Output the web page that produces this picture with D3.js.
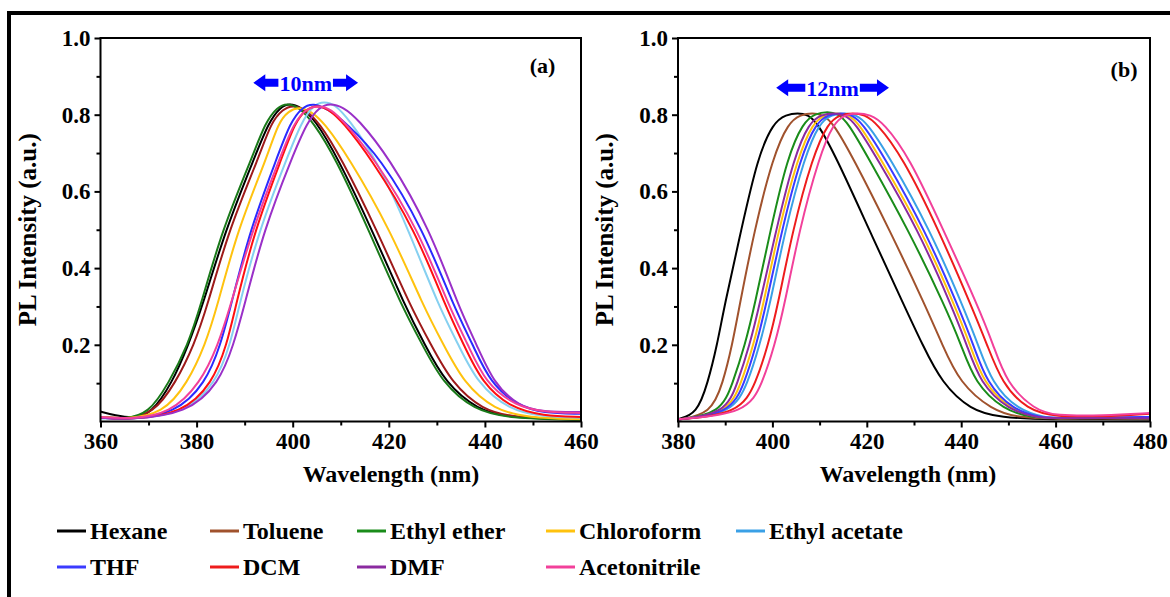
<!DOCTYPE html>
<html>
<head>
<meta charset="utf-8">
<script src="https://cdn.jsdelivr.net/npm/d3@7"></script>
<style>
  body { margin: 0; background: #fff; }
  svg text { font-family: "Liberation Serif", "Times New Roman", serif; font-weight: bold; fill: #000; }
</style>
</head>
<body>
<div id="main"></div>
<script>
// solvents, in legend order
const solvents = ["Hexane", "Toluene", "Ethyl ether", "Chloroform", "Ethyl acetate",
                  "THF", "DCM", "DMF", "Acetonitrile"];
const colors  = ["#000000", "#a0522d", "#1a8c1a", "#ffc20e", "#3aa0e6",
                 "#3b3bff", "#ee1c1c", "#8b2aa0", "#f2409a"];
// panel (a) uses slightly different shades for a few curves
const colorsA = ["#000000", "#9e1a1a", "#1a7a1a", "#ffc20e", "#86d0f0",
                 "#2a2aff", "#ff1010", "#9a30c8", "#f2409a"];

// ---- panel (a): [wavelength nm, PL intensity] ----
const hexaneA = [[360,.026],[363,.016],[367,.008],[370.5,.02],[374.9,.1],[378.3,.2],[381.2,.3],[386,.5],[392.1,.69],[395,.78],[397.4,.82],[399.4,.83],[401.7,.82],[404.5,.79],[409.3,.69],[416.5,.5],[423.4,.3],[427.5,.2],[431.8,.1],[438.5,.03],[445,.01],[460,.006]];
const tolueneA = [[360,.012],[365,.006],[371,.02],[375.6,.1],[379.5,.2],[382.2,.3],[386.7,.5],[393,.69],[395.5,.78],[398,.815],[400,.825],[402.5,.815],[405.5,.78],[410,.69],[417.5,.5],[424.5,.3],[428.8,.2],[433.1,.1],[439.5,.03],[446,.01],[460,.005]];
const etherA = [[360,.012],[365,.006],[370,.02],[374.2,.1],[378.2,.2],[380.8,.3],[385.3,.5],[391.6,.69],[394.3,.78],[396.8,.82],[398.8,.83],[401.3,.82],[404.3,.78],[408.8,.69],[415.8,.5],[422.7,.3],[427,.2],[431.2,.1],[437.7,.03],[445,.008],[460,.004]];
const chloroformA = [[360,.012],[365,.006],[373,.02],[378.1,.1],[381.8,.2],[384.3,.3],[388.5,.5],[394.7,.69],[397,.78],[399.2,.81],[401.2,.82],[403.7,.81],[406.5,.78],[411.6,.69],[420.3,.5],[427.2,.3],[431.4,.2],[435.6,.1],[442,.03],[449,.01],[460,.006]];
const acetateA = [[360,.008],[366,.005],[377.5,.02],[384,.1],[387,.2],[388.8,.3],[393,.5],[398.9,.69],[401.8,.78],[404.3,.825],[406.5,.835],[409,.825],[411.5,.79],[417.2,.69],[424.1,.5],[430.4,.3],[434.5,.2],[438.4,.1],[445,.03],[452,.012],[460,.01]];
const thfA = [[360,.01],[366,.005],[375.5,.02],[381.9,.1],[385,.2],[387.1,.3],[391.1,.5],[396.8,.69],[399.5,.78],[402,.82],[404.3,.83],[407.3,.815],[411,.78],[418.2,.69],[427.2,.5],[433.5,.3],[437.5,.2],[441.1,.1],[447,.04],[452,.022],[460,.02]];
const dcmA = [[360,.01],[366,.005],[377,.02],[383.3,.1],[386.3,.2],[388.1,.3],[392.1,.5],[397.8,.69],[400.5,.78],[402.8,.815],[405,.825],[407.5,.815],[410.5,.78],[416.1,.69],[425.5,.5],[431.8,.3],[435.6,.2],[439.4,.1],[445.5,.035],[452,.015],[460,.012]];
const dmfA = [[360,.01],[366,.005],[378,.02],[384.7,.1],[387.7,.2],[389.9,.3],[394,.5],[399.9,.69],[403,.78],[405.5,.82],[407.8,.83],[410.5,.82],[413.5,.79],[420,.69],[428.6,.5],[434.5,.3],[438.3,.2],[441.8,.1],[447,.04],[452,.025],[460,.025]];
const acetonitrileA = [[360,.012],[366,.006],[374.5,.02],[380.8,.1],[384.5,.2],[387,.3],[391.6,.5],[397.4,.69],[400.3,.78],[402.8,.815],[405.3,.825],[408,.815],[410.8,.78],[416.8,.69],[426.2,.5],[432.5,.3],[436.5,.2],[440.1,.1],[446.5,.04],[452,.025],[460,.022]];

// ---- panel (b) ----
const hexaneB = [[380,.006],[384,.02],[386.3,.1],[388.3,.2],[389.8,.3],[393.4,.5],[396.9,.69],[400.2,.78],[402.9,.8],[405.4,.805],[407.5,.8],[409.5,.78],[413.5,.69],[420.5,.5],[428,.3],[431.8,.2],[435.9,.1],[442,.03],[448,.01],[460,.005],[470,.006],[480,.005]];
const tolueneB = [[380,.005],[387,.02],[389.5,.1],[391.5,.2],[393,.3],[396.2,.5],[400.1,.69],[403.4,.78],[406,.8],[408.5,.805],[410.6,.8],[412.8,.78],[417,.69],[424.8,.5],[432.5,.3],[436,.2],[439.7,.1],[446.5,.03],[452,.01],[460,.007],[470,.008],[480,.006]];
const etherB = [[380,.005],[389,.02],[391.6,.1],[394.2,.2],[396.2,.3],[399.6,.5],[403.2,.69],[406.5,.78],[409.1,.803],[411.7,.808],[413.8,.803],[416,.78],[420.2,.69],[428.8,.5],[436.6,.3],[440,.2],[442.9,.1],[449,.03],[455,.01],[460,.008],[470,.01],[480,.008]];
const chloroformB = [[380,.005],[390.5,.02],[393.4,.1],[396,.2],[398,.3],[401.3,.5],[405.4,.69],[408.6,.78],[411.2,.8],[413.8,.805],[416,.8],[418.2,.78],[422.7,.69],[431.6,.5],[438.7,.3],[441.9,.2],[444.7,.1],[450.5,.03],[456.5,.01],[460,.008],[470,.01],[480,.01]];
const acetateB = [[380,.005],[391.5,.02],[394.8,.1],[397.3,.2],[399.4,.3],[402.7,.5],[406.8,.69],[410,.78],[412.6,.8],[415.3,.805],[417.6,.8],[420,.78],[424.8,.69],[433.4,.5],[440.4,.3],[443.6,.2],[446.5,.1],[452,.03],[458,.01],[460,.009],[470,.01],[480,.01]];
const thfB = [[380,.005],[391,.02],[394.1,.1],[396.6,.2],[398.6,.3],[402,.5],[406,.69],[409.3,.78],[411.9,.8],[414.5,.805],[416.7,.8],[419,.78],[423.7,.69],[432.3,.5],[439.4,.3],[442.6,.2],[445.4,.1],[451,.03],[457,.01],[460,.009],[470,.01],[480,.012]];
const dcmB = [[380,.005],[393,.02],[396.5,.1],[399.1,.2],[401.1,.3],[404.3,.5],[408.5,.69],[411.8,.78],[414.4,.8],[417,.805],[419.5,.8],[422,.78],[427.6,.69],[435.2,.5],[442.2,.3],[445.5,.2],[448.6,.1],[454,.03],[460,.012],[470,.012],[480,.02]];
const dmfB = [[380,.005],[390,.02],[392.6,.1],[395.2,.2],[397.2,.3],[400.8,.5],[404.6,.69],[407.8,.78],[410.4,.8],[413,.805],[415.2,.8],[417.5,.78],[422,.69],[430.9,.5],[438,.3],[441.2,.2],[444,.1],[450,.03],[456,.01],[460,.008],[470,.01],[480,.008]];
const acetonitrileB = [[380,.006],[394.5,.02],[397.9,.1],[400.5,.2],[402.5,.3],[405.7,.5],[409.9,.69],[413,.78],[415.5,.8],[418,.805],[420.7,.8],[423.5,.78],[429,.69],[436.2,.5],[443.6,.3],[446.8,.2],[449.6,.1],[455.6,.03],[460,.015],[470,.015],[480,.022]];

const seriesA = [hexaneA, tolueneA, etherA, chloroformA, acetateA, thfA, dcmA, dmfA, acetonitrileA];
const seriesB = [hexaneB, tolueneB, etherB, chloroformB, acetateB, thfB, dcmB, dmfB, acetonitrileB];

const yMajor = [0.2, 0.4, 0.6, 0.8, 1.0];
const yMinor = [0.1, 0.3, 0.5, 0.7, 0.9];

const ctx = {
    w: 1170,
    h: 597,
    FONT: 23,
};

const panels = [
    {id: "a", series: seriesA, colors: colorsA, xDomain: [360, 460],
     xMajor: [360, 380, 400, 420, 440, 460], xMinor: [370, 390, 410, 430, 450],
     left: 100.5, right: 581, titleX: 391,
     shift: {from: 391.8, to: 413.6, y: 0.883, text: "10nm"},
     tag: {x: 452, y: 0.93}},
    {id: "b", series: seriesB, colors: colors, xDomain: [380, 480],
     xMajor: [380, 400, 420, 440, 460, 480], xMinor: [390, 410, 430, 450, 470],
     left: 678, right: 1150, titleX: 908,
     shift: {from: 400.8, to: 424.7, y: 0.87, text: "12nm"},
     tag: {x: 474.5, y: 0.918}},
];

const TOP = 38, BOTTOM = 421.5;

function drawPanel(svg, p){
    let x = d3.scaleLinear().domain(p.xDomain).range([p.left, p.right]);
    let y = d3.scaleLinear().domain([0, 1]).range([BOTTOM, TOP]);
    let g = svg.append("g").attr("id", "panel-" + p.id);

    // curves, clipped to the plot frame
    g.append("clipPath").attr("id", "clip-" + p.id)
     .append("rect")
     .attr("x", p.left).attr("y", TOP)
     .attr("width", p.right - p.left).attr("height", BOTTOM - TOP);
    let line = d3.line()
                 .x((d) => x(d[0]))
                 .y((d) => y(d[1]))
                 .curve(d3.curveBasis);
    g.append("g").attr("clip-path", `url(#clip-${p.id})`)
     .selectAll("path")
     .data(p.series)
     .enter()
     .append("path")
     .attr("d", line)
     .attr("fill", "none")
     .attr("stroke", (d, i) => p.colors[i])
     .attr("stroke-width", 2);

    // axes: minor ticks (no labels) then major ticks with labels
    g.append("g")
     .attr("transform", `translate(0,${BOTTOM})`)
     .call(d3.axisBottom(x).tickValues(p.xMinor).tickSize(4).tickFormat(""));
    g.append("g")
     .attr("transform", `translate(0,${BOTTOM})`)
     .call(d3.axisBottom(x).tickValues(p.xMajor).tickSize(6).tickPadding(5)
                           .tickFormat(d3.format("d")));
    g.append("g")
     .attr("transform", `translate(${p.left},0)`)
     .call(d3.axisLeft(y).tickValues(yMinor).tickSize(4).tickFormat(""));
    g.append("g")
     .attr("transform", `translate(${p.left},0)`)
     .call(d3.axisLeft(y).tickValues(yMajor).tickSize(6).tickPadding(4)
                         .tickFormat(d3.format(".1f")));
    g.selectAll(".domain").remove();
    g.selectAll(".tick line").attr("stroke", "#000").attr("stroke-width", 2);
    g.selectAll(".tick text").style("font-size", ctx.FONT + "px")
     .style("font-family", '"Liberation Serif", serif').style("font-weight", "bold");

    // plot frame
    g.append("rect")
     .attr("x", p.left).attr("y", TOP)
     .attr("width", p.right - p.left).attr("height", BOTTOM - TOP)
     .attr("fill", "none").attr("stroke", "#000").attr("stroke-width", 2);

    // axis titles
    g.append("text")
     .attr("x", p.titleX)
     .attr("y", 482)
     .attr("text-anchor", "middle")
     .style("font-size", "24px")
     .text("Wavelength (nm)");
    g.append("text")
     .attr("transform", `translate(${p.left - 65},${(TOP + BOTTOM) / 2}) rotate(-90)`)
     .attr("text-anchor", "middle")
     .style("font-size", "25px")
     .text("PL Intensity (a.u.)");

    // panel tag
    g.append("text")
     .attr("x", x(p.tag.x)).attr("y", y(p.tag.y))
     .attr("dy", "0.35em")
     .attr("text-anchor", "middle")
     .style("font-size", "22px")
     .text(`(${p.id})`);

    // double arrow showing the peak shift
    let ax0 = x(p.shift.from), ax1 = x(p.shift.to), ay = y(p.shift.y);
    let lbl = g.append("text")
     .attr("x", (ax0 + ax1) / 2).attr("y", ay)
     .attr("dy", "0.35em")
     .attr("text-anchor", "middle")
     .style("font-size", "22px")
     .style("fill", "#0000ff")
     .text(p.shift.text);
    let half = lbl.node().getComputedTextLength() / 2 + 1;
    let mid = (ax0 + ax1) / 2;
    let head = 12, hh = 8.5, sh = 4;
    let leftArrow = `M${ax0},${ay} L${ax0 + head},${ay - hh} L${ax0 + head},${ay - sh} L${mid - half},${ay - sh} L${mid - half},${ay + sh} L${ax0 + head},${ay + sh} L${ax0 + head},${ay + hh} Z`;
    let rightArrow = `M${ax1},${ay} L${ax1 - head},${ay - hh} L${ax1 - head},${ay - sh} L${mid + half},${ay - sh} L${mid + half},${ay + sh} L${ax1 - head},${ay + sh} L${ax1 - head},${ay + hh} Z`;
    g.append("path").attr("d", leftArrow).attr("fill", "#0000ff");
    g.append("path").attr("d", rightArrow).attr("fill", "#0000ff");
}

function drawLegend(svg){
    const colX = [57, 210, 357, 546, 736];
    const rowY = [531, 567];
    let items = solvents.map((name, i) => ({name: name, color: colors[i],
                                            col: i < 5 ? i : i - 5, row: i < 5 ? 0 : 1}));
    let lg = svg.append("g").attr("id", "legend")
                .selectAll("g")
                .data(items)
                .enter()
                .append("g")
                .attr("transform", (d) => `translate(${colX[d.col]},${rowY[d.row]})`);
    lg.append("line")
      .attr("x1", 0).attr("x2", 29).attr("y1", 0).attr("y2", 0)
      .attr("stroke", (d) => d.color)
      .attr("stroke-width", 3);
    lg.append("text")
      .attr("x", 33).attr("y", 0).attr("dy", "0.35em")
      .style("font-size", "24px")
      .text((d) => d.name);
}

function createViz(){
    let svg = d3.select("#main").append("svg")
                .attr("width", ctx.w).attr("height", ctx.h);
    svg.append("rect").attr("width", ctx.w).attr("height", ctx.h).attr("fill", "#fff");
    // outer figure border (runs off the right and bottom edges)
    svg.append("rect")
       .attr("x", 9).attr("y", 13)
       .attr("width", ctx.w + 50).attr("height", ctx.h + 50)
       .attr("fill", "none").attr("stroke", "#000").attr("stroke-width", 4);
    panels.forEach((p) => drawPanel(svg, p));
    drawLegend(svg);
}

createViz();
</script>
</body>
</html>
